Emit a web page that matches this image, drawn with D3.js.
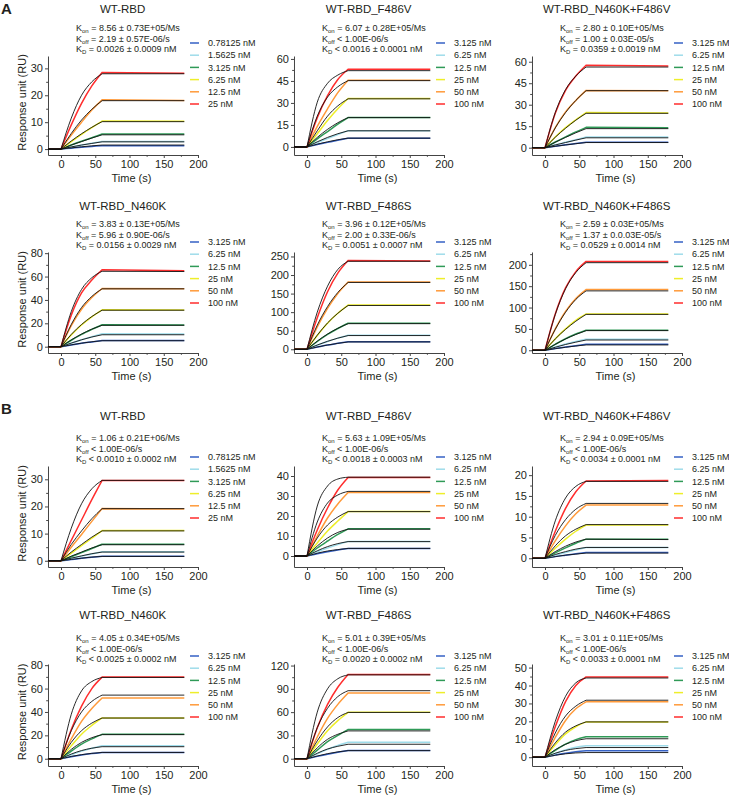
<!DOCTYPE html>
<html><head><meta charset="utf-8">
<script src="https://cdn.jsdelivr.net/npm/d3@7"></script>
<style>
body{margin:0;background:#fff}
svg{display:block}
text{font-family:"Liberation Sans",Arial,sans-serif;fill:#231f20}
</style>
</head><body>
<svg id="c" width="729" height="796"></svg>
<script>
// ---------------- DATA ----------------
const panelTitles = ["WT-RBD","WT-RBD_F486V","WT-RBD_N460K+F486V","WT-RBD_N460K","WT-RBD_F486S","WT-RBD_N460K+F486S",
                     "WT-RBD","WT-RBD_F486V","WT-RBD_N460K+F486V","WT-RBD_N460K","WT-RBD_F486S","WT-RBD_N460K+F486S"];
const konTexts = ["= 8.56 ± 0.73E+05/Ms","= 6.07 ± 0.28E+05/Ms","= 2.80 ± 0.10E+05/Ms","= 3.83 ± 0.13E+05/Ms","= 3.96 ± 0.12E+05/Ms","= 2.59 ± 0.03E+05/Ms",
                  "= 1.06 ± 0.21E+06/Ms","= 5.63 ± 1.09E+05/Ms","= 2.94 ± 0.09E+05/Ms","= 4.05 ± 0.34E+05/Ms","= 5.01 ± 0.39E+05/Ms","= 3.01 ± 0.11E+05/Ms"];
const koffTexts = ["= 2.19 ± 0.57E-06/s","< 1.00E-06/s","= 1.00 ± 0.03E-05/s","= 5.96 ± 0.90E-06/s","= 2.00 ± 0.33E-06/s","= 1.37 ± 0.0.03E-05/s",
                   "< 1.00E-06/s","< 1.00E-06/s","< 1.00E-06/s","< 1.00E-06/s","< 1.00E-06/s","< 1.00E-06/s"];
const kdTexts = ["= 0.0026 ± 0.0009 nM","< 0.0016 ± 0.0001 nM","= 0.0359 ± 0.0019 nM","= 0.0156 ± 0.0029 nM","= 0.0051 ± 0.0007 nM","= 0.0529 ± 0.0014 nM",
                 "< 0.0010 ± 0.0002 nM","< 0.0018 ± 0.0003 nM","< 0.0034 ± 0.0001 nM","< 0.0025 ± 0.0002 nM","= 0.0020 ± 0.0002 nM","< 0.0033 ± 0.0001 nM"];
const concWT = ["0.78125 nM","1.5625 nM","3.125 nM","6.25 nM","12.5 nM","25 nM"];
const concMut = ["3.125 nM","6.25 nM","12.5 nM","25 nM","50 nM","100 nM"];
const legendSets = [concWT,concMut,concMut,concMut,concMut,concMut,concWT,concMut,concMut,concMut,concMut,concMut];
const xDomain = [-19, 200];
const xTicks = [0, 50, 100, 150, 200];
const yDomains = [[-2.2,34.6],[-5.5,62],[-5.1,64],[-5.4,81],[-10,262],[-6.4,230],
                  [-2.3,34.9],[-5.5,45],[-2.1,22.2],[-6.2,81],[-9.4,122],[-4.9,52]];
const yTicks = [[0,10,20,30],[0,15,30,45,60],[0,15,30,45,60],[0,20,40,60,80],[0,50,100,150,200,250],[0,50,100,150,200],
                [0,10,20,30],[0,10,20,30,40],[0,5,10,15,20],[0,20,40,60,80],[0,30,60,90,120],[0,10,20,30,40,50]];
// time points (s) of the read values: association 15,30,45,60 then end of dissociation 180
const readTimes = [15, 30, 45, 60, 180];
// observed (coloured) curves, per panel, lowest to highest concentration
const obsA1 = [[0.35,0.7,1.0,1.2,1.2],[0.75,1.5,2.2,2.8,2.8],[1.5,2.9,4.2,5.6,5.6],[2.8,5.5,8.0,10.4,10.3],[5.2,10,14.5,18.3,18.1],[9,17,23.5,28.5,28.2]];
const fitA1 = [[0.45,0.85,1.2,1.5,1.5],[0.8,1.5,2.1,2.7,2.7],[1.5,2.8,4.1,5.3,5.3],[3.0,5.7,8.1,10.2,10.2],[5.8,10.8,14.8,18,18],[11.5,20,25,28,28]];
const obsA2 = [[1.6,3.1,4.6,6.0,6.0],[3,5.8,8.5,11.1,11.1],[5.5,10.5,15.5,20,20],[9,18,26,33,33],[14,26,37,45.5,45.5],[20,35,46,53,53]];
const fitA2 = [[1.9,3.5,4.9,6,6],[3.5,6.5,9,11,11],[6.5,12,16.5,20,20],[11,21,28,32.8,32.8],[21,34,41,45.2,45.2],[30.5,43.4,49,52,52]];
const obsA3 = [[1,2,2.9,3.8,3.8],[2,3.8,5.6,7.4,7.4],[4,7.5,11,14.2,14],[7.5,14,19.5,24.5,24.3],[14,25,33,40,39.8],[24,40,50,57.5,57]];
const fitA3 = [[1,1.9,2.8,3.6,3.6],[1.9,3.6,5.3,6.9,6.9],[3.8,7.2,10.4,13.3,13.3],[7.3,13.6,19.2,24,24],[13.8,24.5,33,39.8,39.8],[24.5,40.5,50,56.3,56.3]];
const obsA4 = [[1.5,2.9,4.1,5.3,5.2],[3,6,8.5,11,10.8],[5.5,10.5,14.8,18.8,18.5],[10,18.5,25.5,31.5,31.3],[18,32,42,49.8,49.5],[27,46,57,65.8,65]];
const fitA4 = [[1.6,3,4.2,5.1,5.1],[3.1,5.9,8.3,10.2,10.2],[5.8,10.8,15,18.3,18.3],[10.5,19,25.8,31.2,31.2],[19,33.5,43,49.5,49.5],[30,49,59,64.5,64.3]];
const obsA5 = [[6,11.5,16,20.5,20.5],[11,21,30,38,38],[21,40,56,70,70],[37,70,97,119,119],[60,110,150,181,181],[85,155,205,239,238]];
const fitA5 = [[6.2,11.5,16,19.8,19.8],[11.5,21.5,30,37,37],[22,41,56.5,69,69],[38,71,97,118,118],[65,115,153,180,180],[100,170,215,237,237]];
const obsA6 = [[4,7.5,10.8,14,14],[7.5,14.5,20.5,26,26],[14,27,38,47,47],[27,50,70,85,85],[50,91,121,142,142],[85,146,184,208,208]];
const fitA6 = [[3.8,7,10,12.5,12.5],[7,13.5,19,24,24],[13.8,26.5,37,46,46],[26.5,49,68,84,84],[49,89,119,139,139],[84,144,182,205,205]];
const obsB1 = [[0.45,0.9,1.3,1.7,1.7],[0.85,1.7,2.5,3.3,3.3],[1.5,3,4.5,6.1,6.1],[2.8,5.6,8.3,11.1,11.1],[5,9.7,14.5,19.2,19.1],[7.5,15,22.5,29.6,29.6]];
const fitB1 = [[0.5,0.95,1.35,1.6,1.6],[0.95,1.8,2.6,3.2,3.2],[1.7,3.2,4.7,5.9,5.9],[3.2,6,8.7,11,11],[6,11,15.5,19.2,19.2],[12,21,26.5,29.6,29.6]];
const obsB2 = [[1.1,2.1,3,3.7,3.7],[2.1,4,5.7,7.3,7.3],[4,7.5,10.8,13.6,13.6],[6.5,12.5,17.5,22.2,22.2],[10,19,26,31.7,31.7],[13,24,33,39.3,39.3]];
const fitB2 = [[1.4,2.5,3.2,3.8,3.8],[2.6,4.7,6.2,7.2,7.2],[5,9,11.8,13.4,13.4],[9,15.5,19.5,22.2,22.2],[17,26.5,30.5,32.3,32.3],[25,35,38.5,39.4,39.4]];
const obsB3 = [[0.4,0.75,1.1,1.4,1.4],[0.7,1.4,2.0,2.6,2.6],[1.3,2.5,3.6,4.6,4.6],[2.4,4.6,6.5,8.0,8.0],[4.2,7.8,10.7,12.8,12.8],[6.5,12,16,18.6,18.7]];
const fitB3 = [[0.4,0.75,1.0,1.25,1.25],[0.9,1.6,2.2,2.6,2.6],[1.6,2.9,3.9,4.6,4.5],[3,5.4,7,8.1,8.1],[5.5,9.3,11.8,13.2,13.2],[9,14.5,17.3,18.5,18.5]];
const obsB4 = [[1.7,3.2,4.4,5.4,5.4],[3.4,6.5,9,11.2,11.2],[6.5,12.5,17,20.9,20.9],[11,21,28.5,34.9,34.9],[17,32,43,52,52],[25,45,60,69.8,69.8]];
const fitB4 = [[2,3.5,4.6,5.4,5.4],[4,7,9,10.3,10.3],[8,14,18,20.6,20.6],[14,24,30.5,34.8,34.8],[24,40,49,54.4,54.4],[38,58,66,69.5,69.5]];
const obsB5 = [[3,5.8,8.3,10.5,10.5],[6.2,12,17,21.2,21.2],[11,22,30,37.6,37.6],[19,36,49,59.7,59.7],[28,52,70,84.6,84.6],[40,70,92,108.5,108.5]];
const fitB5 = [[3.5,6.5,8.8,10.4,10.4],[7,12.5,16,18.6,18.6],[14,25,31.5,35.8,35.8],[23,41,53,59.6,59.6],[40,65,80,87.6,87.6],[60,90,103,108,108]];
const obsB6 = [[1.2,2.2,3,3.6,3.6],[2.1,4,5.5,6.4,6.4],[3.8,7.3,9.8,11.4,11.4],[7,13,17,19.7,19.7],[11,20.5,27,30.9,30.9],[17,31,40,44.8,44.8]];
const fitB6 = [[1.1,1.9,2.4,2.6,2.6],[2.2,3.8,4.8,5.4,5.4],[4.2,7.2,9.2,10.3,10.3],[8,14,17.5,19.7,19.7],[13.5,23,28.5,31.8,31.8],[20,34,41.5,44.2,44.2]];
const obsAll = [obsA1,obsA2,obsA3,obsA4,obsA5,obsA6,obsB1,obsB2,obsB3,obsB4,obsB5,obsB6];
const fitAll = [fitA1,fitA2,fitA3,fitA4,fitA5,fitA6,fitB1,fitB2,fitB3,fitB4,fitB5,fitB6];

// ---------------- LAYOUT / STYLE ----------------
const seriesColors = ["#3561c4","#9fdcea","#2f9a57","#eeee2a","#ff9a3a","#ff2d2d"];
const rows = [
  {top:56,  bottom:155, title:13,  kin:31,  leg:-13},
  {top:252, bottom:353, title:210, kin:227, leg:-10},
  {top:466, bottom:567, title:420, kin:441, leg:-9},
  {top:664, bottom:766, title:619, kin:641, leg:-8}
];
const colX0 = [61, 307, 545];
const pxPerSec = 0.685;
const svg = d3.select("#c");

svg.append("text").attr("x",1).attr("y",14).attr("font-size",15).attr("font-weight","bold").text("A");
svg.append("text").attr("x",1).attr("y",414).attr("font-size",15).attr("font-weight","bold").text("B");

panelTitles.forEach((title,i)=>{
  const r = Math.floor(i/3), c = i%3;
  const L = rows[r], x0 = colX0[c];
  const x = d3.scaleLinear().domain(xDomain).range([x0 + xDomain[0]*pxPerSec, x0 + xDomain[1]*pxPerSec]);
  const y = d3.scaleLinear().domain(yDomains[i]).range([L.bottom, L.top]);
  const g = svg.append("g");

  g.append("text").attr("x", x(90)).attr("y", L.title).attr("text-anchor","middle").attr("font-size",11.5).text(title);

  const kin = [["on",konTexts[i]],["off",koffTexts[i]],["D",kdTexts[i]]];
  kin.forEach((k,j)=>{
    const t = g.append("text").attr("x", x0+15).attr("y", L.kin + j*10.5).attr("font-size",9);
    t.append("tspan").text("K");
    t.append("tspan").attr("font-size",6).attr("dy",2).text(k[0]);
    t.append("tspan").attr("dy",-2).text(" " + k[1]);
  });

  const yt = yTicks[i];
  g.append("g").attr("transform",`translate(${x(xDomain[0])},0)`)
    .call(d3.axisLeft(y).tickValues(yt).tickSize(3).tickSizeOuter(0).tickPadding(2));
  const step = yt[1]-yt[0];
  const yMinor = [];
  for (let v = yt[0]+step/2; v < yDomains[i][1]; v += step) yMinor.push(v);
  g.append("g").attr("transform",`translate(${x(xDomain[0])},0)`)
    .call(d3.axisLeft(y).tickValues(yMinor).tickSize(1.8).tickSizeOuter(0).tickFormat(""))
    .select(".domain").remove();
  g.append("g").attr("transform",`translate(0,${y(yDomains[i][0])})`)
    .call(d3.axisBottom(x).tickValues(xTicks).tickSize(3).tickSizeOuter(0).tickPadding(2));
  g.append("g").attr("transform",`translate(0,${y(yDomains[i][0])})`)
    .call(d3.axisBottom(x).tickValues([25,75,125,175]).tickSize(1.8).tickSizeOuter(0).tickFormat(""))
    .select(".domain").remove();
  g.selectAll(".tick text").attr("font-size",11).attr("font-family","Liberation Sans, Arial, sans-serif").attr("fill","#231f20");
  g.selectAll(".domain, .tick line").attr("stroke","#444").attr("stroke-width",1);

  g.append("text").attr("x", x(100)+2).attr("y", L.bottom + 27).attr("text-anchor","middle").attr("font-size",11).text("Time (s)");
  if (c === 0) {
    g.append("text").attr("transform",`translate(22,${(L.top+L.bottom)/2 - 3}) rotate(-90)`)
      .attr("text-anchor","middle").attr("dominant-baseline","central").attr("font-size",11).text("Response unit (RU)");
  }

  const lineMono = d3.line().x(d=>x(d[0])).y(d=>y(d[1])).curve(d3.curveMonotoneX);
  const lineLin = d3.line().x(d=>x(d[0])).y(d=>y(d[1]));
  function curvePath(vals){
    const assoc = [[0,0]].concat(readTimes.slice(0,4).map((t,k)=>[t, vals[k]]));
    const dis = [[readTimes[3], vals[3]],[readTimes[4], vals[4]]];
    return lineLin([[xDomain[0],0],[0,0]]) + lineMono(assoc).replace(/^M/,"L") + lineLin(dis).replace(/^M/,"L");
  }
  obsAll[i].forEach((vals,k)=>{
    g.append("path").attr("d", curvePath(vals)).attr("fill","none")
      .attr("stroke", seriesColors[k]).attr("stroke-width",1.5);
  });
  fitAll[i].forEach((vals)=>{
    g.append("path").attr("d", curvePath(vals)).attr("fill","none")
      .attr("stroke", "#111").attr("stroke-width",0.9);
  });

  legendSets[i].forEach((lab,k)=>{
    const ly = L.top + L.leg + k*12.2;
    g.append("line").attr("x1", x0+129).attr("x2", x0+138).attr("y1", ly).attr("y2", ly)
      .attr("stroke", seriesColors[k]).attr("stroke-width",1.5);
    g.append("text").attr("x", x0+147).attr("y", ly).attr("dy","0.35em").attr("font-size",9).text(lab);
  });
});
</script>
</body></html>
